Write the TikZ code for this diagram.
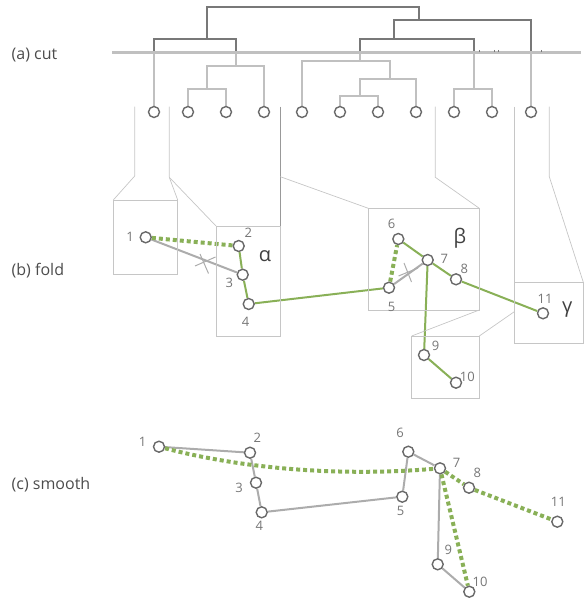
\documentclass[tikz,border=0pt]{standalone}
\usepackage{fontspec}
\setmainfont{Open Sans}
\usetikzlibrary{backgrounds}
\definecolor{grn}{RGB}{137,176,87}
\definecolor{edg}{RGB}{172,172,172}
\definecolor{nod}{RGB}{105,105,105}
\definecolor{lbl}{RGB}{118,118,118}
\definecolor{drk}{RGB}{120,120,120}
\definecolor{lit}{RGB}{192,192,192}
\definecolor{fun}{RGB}{198,198,198}
\begin{document}
\begin{tikzpicture}[x=1pt,y=-1pt,
 vtx/.style={circle,draw=nod,fill=white,line width=1.4pt,minimum size=11pt,inner sep=0pt},
 num/.style={text=lbl,font=\fontsize{13}{13}\selectfont,inner sep=0pt},
 greek/.style={text=black!75,font=\fontsize{20}{20}\selectfont,inner sep=0pt},
 sect/.style={text=black!70,font=\fontsize{16}{16}\selectfont,inner sep=0pt,anchor=west},
 gsolid/.style={draw=grn,line width=2pt},
 gdot/.style={draw=grn,line width=4pt,dash pattern=on 4pt off 3pt},
 gedge/.style={draw=edg,line width=2pt},
 dtree/.style={draw=drk,line width=2pt},
 ltree/.style={draw=lit,line width=2pt},
 funnel/.style={draw=fun,line width=0.7pt},
 box/.style={draw=fun,line width=0.8pt},
 cross/.style={draw=edg,line width=1pt},
]
\useasboundingbox (0,0) rectangle (587,599);

% section labels
\node[sect] (la) at (11.5,55) {(a) cut};
\node[sect] (lb) at (11.5,270.7) {(b) fold};
\node[sect] (lc) at (11.5,484.3) {(c) smooth};

% ---------- (a) dendrogram ----------
\foreach \i/\x in {1/154,2/188,3/226,4/264,5/302,6/340,7/378,8/416,9/454,10/492,11/531}
  \node[vtx] (L\i) at (\x,112) {};

\begin{scope}[on background layer]
% light subtrees
\draw[ltree] (154,52) -- (L1.north);
\draw[ltree] (236,52) -- (236,66);
\draw[ltree] (L4.north) -- (264,66) -- (206.7,66) -- (206.7,89.3);
\draw[ltree] (L2.north) -- (188,89.3) -- (226,89.3) -- (L3.north);
\draw[ltree] (359.7,52) -- (359.7,60.7);
\draw[ltree] (L5.north) -- (302,60.7) -- (390,60.7) -- (390,79);
\draw[ltree] (L8.north) -- (416,79) -- (359.7,79) -- (359.7,95.7);
\draw[ltree] (L6.north) -- (340,95.7) -- (378,95.7) -- (L7.north);
\draw[ltree] (474,52) -- (474,89);
\draw[ltree] (L9.north) -- (454,89) -- (492,89) -- (L10.north);
\draw[ltree] (531,52) -- (L11.north);
% dark upper tree
\draw[dtree] (154,52) -- (154,39.3) -- (236,39.3) -- (236,52);
\draw[dtree] (206.7,39.3) -- (206.7,6.7) -- (419.3,6.7) -- (419.3,20);
\draw[dtree] (394.3,39.3) -- (394.3,20) -- (531,20) -- (531,52);
\draw[dtree] (359.7,52) -- (359.7,39.3) -- (474,39.3) -- (474,52);
% cut line
\draw[draw=lit, line width=3pt] (112,52.3) -- (581,52.3);
\foreach \x in {479,494,498,541.7}
  \draw[drk,line width=0.6pt] (\x,49.8) -- (\x,52.5);
\end{scope}

% funnel lines
\draw[funnel] (134.7,106.7) -- (134.7,176) -- (113.3,200);
\draw[funnel] (169.3,106.7) -- (169.3,177.3) -- (177.7,200);
\draw[funnel] (169.3,177.3) -- (216,226);
\draw[funnel, draw=black!40] (280.3,106.7) -- (280.3,226);
\draw[funnel] (280.3,176.7) -- (368.3,208.3);
\draw[funnel] (435.3,106.7) -- (435.3,177.3) -- (479.3,208.3);
\draw[funnel] (514.3,106.7) -- (514.3,282.3);
\draw[funnel] (549.3,106.7) -- (549.3,176.7) -- (583.3,282.3);
\draw[funnel] (479.3,310) -- (411.7,336);
\draw[funnel] (514.3,311.7) -- (479.3,336);

% boxes
\draw[box] (113.3,200) rectangle (177.7,274.3);
\draw[box] (216,226) rectangle (280.7,336);
\draw[box] (368.3,208.3) rectangle (479.3,310);
\draw[box] (514.3,282.3) rectangle (583.3,343.3);
\draw[box] (411.7,336) rectangle (479.3,398.3);

% ---------- (b) fold ----------
\foreach \i/\x/\y in {1/145.7/237.3,2/238.7/246,3/242.7/274.7,4/248.7/304,5/389/287.7,
  6/398.3/239,7/427.7/260,8/456/279.3,9/424/355,10/456/382.7,11/543/313.3}
  \node[vtx] (f\i) at (\x,\y) {};
\foreach \i/\x/\y in {1/130/237,2/248.3/232.7,3/229.3/283.3,4/245.7/321.7,5/391.7/307.3,
  6/391.7/224.3,7/444.3/259.3,8/464.3/269,9/435.7/346,10/467.3/376.7,11/545/299}
  \node[num] (fl\i) at (\x,\y) {\i};
\node[greek] (ga) at (265,256) {α};
\node[greek] (gb) at (460,238.3) {β};
\node[greek] (gg) at (567.3,310) {γ};

\begin{scope}[on background layer]
\draw[gedge] (f1) -- (f3);
\draw[gedge] (f5) -- (f7);
\draw[gdot] (f1) -- (f2);
\draw[gdot] (f5) -- (f6);
\draw[gsolid] (f2) -- (f3);
\draw[gsolid] (f3) -- (f4);
\draw[gsolid] (f4) -- (f5);
\draw[gsolid] (f6) -- (f7);
\draw[gsolid] (f7) -- (f8);
\draw[gsolid] (f8) -- (f11);
\draw[gsolid] (f7) -- (f9);
\draw[gsolid] (f9) -- (f10);
\end{scope}
% cut marks
\draw[cross] (200,254) -- (208.5,273.5);
\draw[cross] (195,266) -- (215.5,257);
\draw[cross] (404,263) -- (411.5,282);
\draw[cross] (398.5,276) -- (418,268);

% ---------- (c) smooth ----------
\foreach \i/\x/\y in {1/159/446.7,2/250/452.7,3/256/482.7,4/261.7/512.3,5/402.3/496.7,
  6/408.3/451.7,7/440/468.3,8/469/487.7,9/437.7/564.3,10/469.3/591.7,11/557.3/521.7}
  \node[vtx] (s\i) at (\x,\y) {};
\foreach \i/\x/\y in {1/142.7/441.7,2/257.3/437.3,3/239/488.3,4/259.3/526,5/400.7/511,
  6/400/432.7,7/456.7/463.3,8/477.3/472.7,9/448.3/550,10/480/581.7,11/558.3/501.7}
  \node[num] (sl\i) at (\x,\y) {\i};

\begin{scope}[on background layer]
\draw[gedge] (s1) -- (s2) -- (s3) -- (s4) -- (s5) -- (s6) -- (s7) -- (s9) -- (s10);
\draw[gdot] (s1) .. controls (260,473) and (360,475) .. (s7);
\draw[gdot] (s7) -- (s8);
\draw[gdot] (s8) -- (s11);
\draw[gdot] (s7) -- (s10);
\end{scope}
\end{tikzpicture}
\end{document}
